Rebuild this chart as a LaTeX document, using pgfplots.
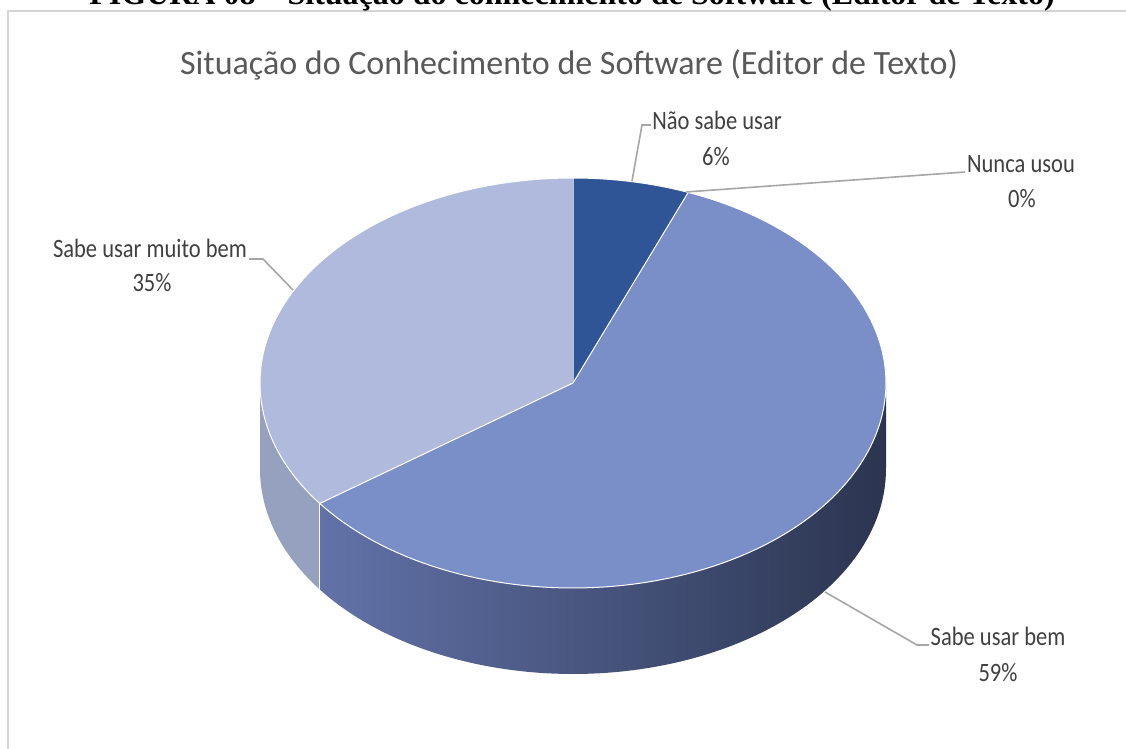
\documentclass[border=0pt]{standalone}
\usepackage{fontspec}
\setmainfont{Carlito}
\newfontfamily\headfont{Liberation Serif}
\usepackage{pgfplots}
\pgfplotsset{compat=1.18}
\usepackage{pgfplotstable}

\definecolor{cA}{HTML}{2F5597}
\definecolor{cC}{HTML}{7A8EC8}
\definecolor{cD}{HTML}{B0BADC}
\definecolor{sD}{HTML}{96A0BF}
\definecolor{sCl}{HTML}{6272A8}
\definecolor{sCr}{HTML}{2B3550}
\definecolor{lead}{HTML}{A6A6A6}
\definecolor{txt}{HTML}{404040}
\definecolor{ttl}{HTML}{595959}
\definecolor{frame}{HTML}{D4D4D4}

\pgfplotstableread[col sep=comma]{
label,value
Não sabe usar,6
Nunca usou,0
Sabe usar bem,59
Sabe usar muito bem,35
}\piedata

\begin{document}
\begin{tikzpicture}
\pgfplotstablegetelem{0}{value}\of\piedata \pgfmathsetmacro\vA{\pgfplotsretval}
\pgfplotstablegetelem{1}{value}\of\piedata \pgfmathsetmacro\vB{\pgfplotsretval}
\pgfplotstablegetelem{2}{value}\of\piedata \pgfmathsetmacro\vC{\pgfplotsretval}
\pgfplotstablegetelem{3}{value}\of\piedata \pgfmathsetmacro\vD{\pgfplotsretval}
\pgfmathsetmacro\tot{\vA+\vB+\vC+\vD}
\pgfmathsetmacro\k{360/\tot}
\pgfmathsetmacro\aA{0}
\pgfmathsetmacro\aB{\aA+\k*\vA}
\pgfmathsetmacro\aC{\aB+\k*\vB}
\pgfmathsetmacro\aD{\aC+\k*\vC}
\pgfmathsetmacro\aE{\aD+\k*\vD}
% sector sampling steps (120 samples; first sample is the centre)
\pgfmathsetmacro\dA{(\aB-\aA)/118}\pgfmathsetmacro\sA{\aA-\dA}
\pgfmathsetmacro\dC{(\aD-\aC)/118}\pgfmathsetmacro\sC{\aC-\dC}
\pgfmathsetmacro\dD{(\aE-\aD)/118}\pgfmathsetmacro\sD{\aD-\dD}
% visible side walls (front half: 90..270)
\pgfmathsetmacro\loC{max(\aC,90)}\pgfmathsetmacro\hiC{min(\aD,270)}
\pgfmathsetmacro\eC{2*(\hiC-\loC)/200}\pgfmathsetmacro\enC{2*\hiC-\loC+\eC}
\pgfmathsetmacro\loD{max(\aD,90)}\pgfmathsetmacro\hiD{min(\aE,270)}
\pgfmathsetmacro\eD{2*(\hiD-\loD)/200}\pgfmathsetmacro\enD{2*\hiD-\loD+\eD}
\begin{axis}[name=ax, x=0.5pt, y=0.5pt, y dir=reverse,
  xmin=0, xmax=1126, ymin=0, ymax=749, hide axis, clip=false, scale only axis]
% frame and header
\addplot[frame, line width=1.3pt] coordinates {(8,760) (8,11) (1140,11)};
\node[anchor=base, font=\headfont\bfseries\fontsize{16}{19}\selectfont, text=black] at (axis cs:572,5)
  {FIGURA 08 – Situação do conhecimento de Software (Editor de Texto)};
\node[anchor=base, font=\fontsize{17}{20}\selectfont, text=ttl] at (axis cs:569,75)
  {Situação do Conhecimento de Software (Editor de Texto)};
% side walls
\addplot[draw=none, fill=sD, domain=\loD:\enD, samples=202, variable=\t]
 ({ifthenelse(\t<\hiD+0.5*\eD, 573+313*sin(\t), 573+313*sin(2*\hiD+\eD-\t))},
  {ifthenelse(\t<\hiD+0.5*\eD, 383-205*cos(\t), 469-205*cos(2*\hiD+\eD-\t))});
\addplot[draw=none, left color=sCl, right color=sCr, domain=\loC:\enC, samples=202, variable=\t]
 ({ifthenelse(\t<\hiC+0.5*\eC, 573+313*sin(\t), 573+313*sin(2*\hiC+\eC-\t))},
  {ifthenelse(\t<\hiC+0.5*\eC, 383-205*cos(\t), 469-205*cos(2*\hiC+\eC-\t))});
% top sectors
\addplot[fill=cA, draw=white, line width=0.5pt, domain=\sA:\aB, samples=120, variable=\t]
 ({ifthenelse(\t<\aA-0.5*\dA, 573, 573+313*sin(\t))},
  {ifthenelse(\t<\aA-0.5*\dA, 383, 383-205*cos(\t))});
\addplot[fill=cC, draw=white, line width=0.5pt, domain=\sC:\aD, samples=120, variable=\t]
 ({ifthenelse(\t<\aC-0.5*\dC, 573, 573+313*sin(\t))},
  {ifthenelse(\t<\aC-0.5*\dC, 383, 383-205*cos(\t))});
\addplot[fill=cD, draw=white, line width=0.5pt, domain=\sD:\aE, samples=120, variable=\t]
 ({ifthenelse(\t<\aD-0.5*\dD, 573, 573+313*sin(\t))},
  {ifthenelse(\t<\aD-0.5*\dD, 383, 383-205*cos(\t))});
% vertical edge between side walls
\addplot[white, line width=0.6pt, domain=0:1, samples=2, variable=\t]
 ({573+313*sin(\aD)}, {383-205*cos(\aD)+86*\t});
% leader lines
\addplot[lead, line width=0.8pt] coordinates {(632,181) (642,125) (651,125)};
\addplot[lead, line width=0.8pt] coordinates {(686,192) (965,172)};
\addplot[lead, line width=0.8pt] coordinates {(293,290) (263,259) (249,259)};
\addplot[lead, line width=0.8pt] coordinates {(825,592) (917,645) (929,645)};
% labels
\begin{scope}[every node/.style={anchor=base, text=txt, font=\fontsize{13.25}{15}\selectfont, inner sep=0pt, xscale=0.85}]
\node at (axis cs:717,130) {Não sabe usar};
\node at (axis cs:716,166) {6\%};
\node at (axis cs:1021,173) {Nunca usou};
\node at (axis cs:1022,208) {0\%};
\node at (axis cs:150,257) {Sabe usar muito bem};
\node at (axis cs:152,292) {35\%};
\node at (axis cs:998,645) {Sabe usar bem};
\node at (axis cs:998,681) {59\%};
\end{scope}
\end{axis}
\pgfresetboundingbox
\path[use as bounding box] (ax.south west) rectangle (ax.north east);
\end{tikzpicture}
\end{document}
